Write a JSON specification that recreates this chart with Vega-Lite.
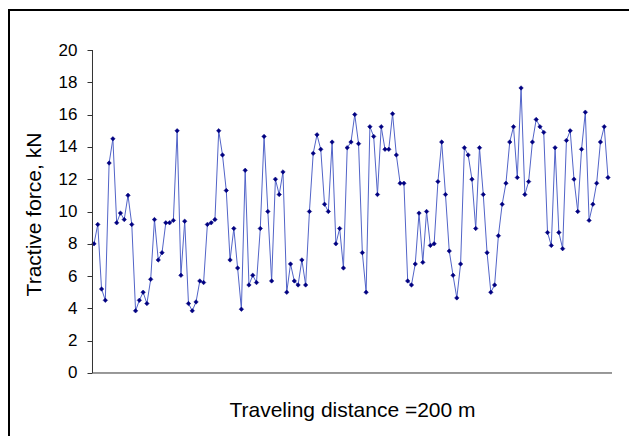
{
  "$schema": "https://vega.github.io/schema/vega-lite/v6.json",
  "width": 686,
  "height": 440,
  "autosize": {"type": "none"},
  "padding": {"left": 9, "top": 10, "right": 0, "bottom": 0},
  "background": "white",
  "config": {"view": {"stroke": "black", "strokeWidth": 2}, "font": "Liberation Sans"},
  "data": {"values": [
    {"i":1,"f":8.0},{"i":2,"f":9.2},{"i":3,"f":5.2},{"i":4,"f":4.5},{"i":5,"f":13.0},{"i":6,"f":14.5},{"i":7,"f":9.3},{"i":8,"f":9.9},{"i":9,"f":9.5},{"i":10,"f":11.0},
    {"i":11,"f":9.2},{"i":12,"f":3.85},{"i":13,"f":4.5},{"i":14,"f":5.0},{"i":15,"f":4.3},{"i":16,"f":5.8},{"i":17,"f":9.5},{"i":18,"f":7.0},{"i":19,"f":7.45},{"i":20,"f":9.3},
    {"i":21,"f":9.3},{"i":22,"f":9.45},{"i":23,"f":15.0},{"i":24,"f":6.05},{"i":25,"f":9.4},{"i":26,"f":4.3},{"i":27,"f":3.85},{"i":28,"f":4.4},{"i":29,"f":5.7},{"i":30,"f":5.6},
    {"i":31,"f":9.2},{"i":32,"f":9.3},{"i":33,"f":9.5},{"i":34,"f":15.0},{"i":35,"f":13.5},{"i":36,"f":11.3},{"i":37,"f":7.0},{"i":38,"f":8.95},{"i":39,"f":6.5},{"i":40,"f":3.95},
    {"i":41,"f":12.55},{"i":42,"f":5.45},{"i":43,"f":6.05},{"i":44,"f":5.6},{"i":45,"f":8.95},{"i":46,"f":14.65},{"i":47,"f":10.0},{"i":48,"f":5.7},{"i":49,"f":12.0},{"i":50,"f":11.05},
    {"i":51,"f":12.45},{"i":52,"f":5.0},{"i":53,"f":6.75},{"i":54,"f":5.7},{"i":55,"f":5.45},{"i":56,"f":7.0},{"i":57,"f":5.45},{"i":58,"f":10.0},{"i":59,"f":13.6},{"i":60,"f":14.75},
    {"i":61,"f":13.85},{"i":62,"f":10.45},{"i":63,"f":10.0},{"i":64,"f":14.3},{"i":65,"f":8.0},{"i":66,"f":8.95},{"i":67,"f":6.5},{"i":68,"f":13.95},{"i":69,"f":14.3},{"i":70,"f":16.0},
    {"i":71,"f":14.2},{"i":72,"f":7.45},{"i":73,"f":5.0},{"i":74,"f":15.25},{"i":75,"f":14.65},{"i":76,"f":11.05},{"i":77,"f":15.25},{"i":78,"f":13.85},{"i":79,"f":13.85},{"i":80,"f":16.05},
    {"i":81,"f":13.5},{"i":82,"f":11.75},{"i":83,"f":11.75},{"i":84,"f":5.7},{"i":85,"f":5.45},{"i":86,"f":6.75},{"i":87,"f":9.9},{"i":88,"f":6.85},{"i":89,"f":10.0},{"i":90,"f":7.9},
    {"i":91,"f":8.0},{"i":92,"f":11.85},{"i":93,"f":14.3},{"i":94,"f":11.05},{"i":95,"f":7.55},{"i":96,"f":6.05},{"i":97,"f":4.65},{"i":98,"f":6.75},{"i":99,"f":13.95},{"i":100,"f":13.5},
    {"i":101,"f":12.0},{"i":102,"f":8.95},{"i":103,"f":13.95},{"i":104,"f":11.05},{"i":105,"f":7.45},{"i":106,"f":5.0},{"i":107,"f":5.45},{"i":108,"f":8.5},{"i":109,"f":10.45},{"i":110,"f":11.75},
    {"i":111,"f":14.3},{"i":112,"f":15.25},{"i":113,"f":12.1},{"i":114,"f":17.65},{"i":115,"f":11.05},{"i":116,"f":11.85},{"i":117,"f":14.3},{"i":118,"f":15.7},{"i":119,"f":15.25},{"i":120,"f":14.9},
    {"i":121,"f":8.7},{"i":122,"f":7.9},{"i":123,"f":13.95},{"i":124,"f":8.7},{"i":125,"f":7.7},{"i":126,"f":14.4},{"i":127,"f":15.0},{"i":128,"f":12.0},{"i":129,"f":10.0},{"i":130,"f":13.85},
    {"i":131,"f":16.15},{"i":132,"f":9.45},{"i":133,"f":10.45},{"i":134,"f":11.75},{"i":135,"f":14.3},{"i":136,"f":15.25},{"i":137,"f":12.1}
  ]},
  "layer": [
    {
      "mark": {"type": "line", "color": "#5264c8", "strokeWidth": 1,
               "point": {"shape": "diamond", "filled": true, "fill": "#000080", "stroke": "#000080", "strokeWidth": 0.5, "size": 20}},
      "encoding": {
        "x": {"field": "i", "type": "quantitative",
              "scale": {"domain": [-21.49, 160.02], "nice": false, "zero": false},
              "axis": {"title": "Traveling distance =200 m", "orient": "bottom", "offset": -77,
                       "domain": false, "ticks": false, "labels": false, "grid": false,
                       "minExtent": 0, "titleFontSize": 21, "titleFontWeight": "normal",
                       "titleColor": "black", "titlePadding": 26}},
        "y": {"field": "f", "type": "quantitative",
              "scale": {"domain": [-4.768, 22.477], "nice": false, "zero": false},
              "axis": {"title": "Tractive force, kN", "values": [0,2,4,6,8,10,12,14,16,18,20],
                       "orient": "left", "offset": -83, "domain": false, "grid": false,
                       "tickSize": 5, "tickColor": "#333333", "labelFontSize": 17, "labelColor": "black",
                       "labelPadding": 10, "labelOverlap": false, "labelFlush": false,
                       "titleFontSize": 21, "titleFontWeight": "normal", "titleColor": "black",
                       "titleAngle": 270, "titleBaseline": "bottom", "titleAlign": "center",
                       "titleX": -48, "titleY": 204}}
      }
    },
    {
      "data": {"values": [{}]},
      "mark": {"type": "rule", "color": "#333333", "strokeWidth": 1},
      "encoding": {
        "x": {"datum": 0.6, "type": "quantitative"},
        "y": {"datum": 0, "type": "quantitative"},
        "y2": {"datum": 20}
      }
    },
    {
      "data": {"values": [{}]},
      "mark": {"type": "rule", "color": "#333333", "strokeWidth": 1},
      "encoding": {
        "x": {"datum": 0.6, "type": "quantitative"},
        "x2": {"datum": 138.06},
        "y": {"datum": 0, "type": "quantitative"}
      }
    }
  ]
}
